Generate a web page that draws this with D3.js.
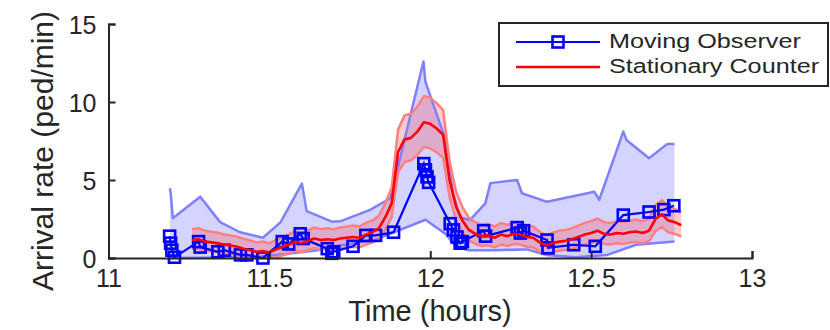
<!DOCTYPE html>
<html>
<head>
<meta charset="utf-8">
<script src="https://cdn.jsdelivr.net/npm/d3@7"></script>
<style>
  body { margin: 0; background: #fff; }
  text { font-family: "Liberation Sans", Arial, Helvetica, sans-serif; fill: #262626; }
</style>
</head>
<body>
<div id="chart"></div>
<script>
// moving observer estimates (time in hours, rate in ped/min)
const moverTime = [11.190, 11.193, 11.197, 11.205, 11.280, 11.285, 11.340, 11.360, 11.410, 11.430,
  11.480, 11.540, 11.560, 11.596, 11.605, 11.680, 11.694, 11.700, 11.760, 11.800, 11.830, 11.886,
  11.980, 11.985, 11.990, 11.995, 12.062, 12.072, 12.083, 12.093, 12.100, 12.166, 12.172, 12.270,
  12.280, 12.290, 12.363, 12.366, 12.446, 12.513, 12.600, 12.680, 12.726, 12.757];
const moverRate = [1.40, 0.95, 0.50, 0.05, 1.05, 0.70, 0.40, 0.50, 0.20, 0.20,
  0.00, 1.05, 0.90, 1.55, 1.25, 0.60, 0.30, 0.40, 0.75, 1.45, 1.45, 1.65,
  6.05, 5.65, 5.20, 4.85, 2.20, 1.80, 1.35, 0.95, 1.05, 1.75, 1.40, 1.95,
  1.60, 1.75, 1.15, 0.65, 0.85, 0.75, 2.75, 2.95, 3.10, 3.35];

// moving observer confidence band
const moverHiTime = [11.191, 11.193, 11.200, 11.285, 11.347, 11.409, 11.480, 11.535, 11.601, 11.616,
  11.694, 11.720, 11.813, 11.876, 11.890, 11.940, 11.979, 11.985, 12.047, 12.070, 12.093, 12.124,
  12.171, 12.187, 12.270, 12.285, 12.363, 12.510, 12.525, 12.600, 12.610, 12.680, 12.736, 12.759];
const moverHi = [4.47, 4.20, 2.55, 3.93, 2.30, 1.65, 1.30, 2.30, 4.77, 3.00,
  2.33, 2.35, 3.08, 3.83, 5.00, 9.30, 12.60, 11.30, 7.60, 4.20, 2.60, 2.44,
  3.50, 4.80, 5.00, 4.15, 3.60, 4.25, 3.72, 8.10, 7.56, 6.39, 7.30, 7.30];
const moverLoTime = [11.191, 11.450, 11.550, 11.650, 11.720, 11.820, 11.985, 12.050, 12.080, 12.120,
  12.200, 12.300, 12.360, 12.450, 12.550, 12.640, 12.759];
const moverLo = [0.00, 0.05, 0.25, 0.50, 0.80, 1.10, 2.45, 1.50, 0.72, 0.50,
  0.50, 0.55, 0.20, 0.05, 0.20, 0.85, 1.05];

// stationary counter, sampled every 0.02 h from 11.26
const counterTime = [11.26, 11.28, 11.30, 11.32, 11.34, 11.36, 11.38, 11.40, 11.42, 11.44,
  11.46, 11.48, 11.50, 11.52, 11.54, 11.56, 11.58, 11.60, 11.62, 11.64,
  11.66, 11.68, 11.70, 11.72, 11.74, 11.76, 11.78, 11.80, 11.82, 11.84,
  11.86, 11.88, 11.90, 11.92, 11.94, 11.96, 11.98, 12.00, 12.02, 12.04,
  12.06, 12.08, 12.10, 12.12, 12.14, 12.16, 12.18, 12.20, 12.22, 12.24,
  12.26, 12.28, 12.30, 12.32, 12.34, 12.36, 12.38, 12.40, 12.42, 12.44,
  12.46, 12.48, 12.50, 12.52, 12.54, 12.56, 12.58, 12.60, 12.62, 12.64,
  12.66, 12.68, 12.70, 12.72, 12.74, 12.76, 12.78];
const counterRate = [1.15, 1.20, 1.05, 1.00, 0.95, 0.85, 0.80, 0.72, 0.60, 0.50,
  0.40, 0.45, 0.35, 0.55, 0.70, 0.85, 1.05, 0.95, 1.10, 1.25,
  1.15, 1.20, 1.15, 1.25, 1.30, 1.35, 1.30, 1.50, 1.65, 1.90,
  2.60, 3.50, 6.80, 7.60, 7.70, 8.10, 8.70, 8.60, 8.30, 7.90,
  5.00, 3.30, 2.40, 1.80, 1.55, 1.40, 1.45, 1.30, 1.50, 1.40,
  1.55, 1.50, 1.35, 1.30, 1.00, 0.80, 0.95, 1.05, 1.10, 1.20,
  1.35, 1.50, 1.60, 1.75, 1.55, 1.50, 1.60, 1.55, 1.65, 1.70,
  1.60, 1.75, 2.50, 2.80, 2.40, 2.30, 2.10];
const counterHi = [1.85, 1.91, 1.74, 1.68, 1.62, 1.51, 1.45, 1.36, 1.23, 1.12,
  1.00, 1.06, 0.95, 1.17, 1.34, 1.51, 1.74, 1.62, 1.79, 1.96,
  1.85, 1.91, 1.85, 1.96, 2.02, 2.08, 2.02, 2.25, 2.41, 2.70,
  3.49, 4.50, 8.23, 9.14, 9.25, 9.70, 10.38, 10.27, 9.93, 9.48,
  6.20, 4.28, 3.26, 2.58, 2.30, 2.13, 2.19, 2.02, 2.25, 2.13,
  2.30, 2.25, 2.08, 2.02, 1.68, 1.45, 1.62, 1.74, 1.79, 1.91,
  2.08, 2.25, 2.36, 2.53, 2.30, 2.25, 2.36, 2.30, 2.41, 2.47,
  2.36, 2.53, 3.38, 3.71, 3.26, 3.15, 2.92];
const counterLo = [0.55, 0.59, 0.46, 0.42, 0.38, 0.29, 0.25, 0.18, 0.07, 0.00,
  0.00, 0.00, 0.00, 0.03, 0.16, 0.29, 0.46, 0.38, 0.51, 0.64,
  0.55, 0.59, 0.55, 0.64, 0.68, 0.72, 0.68, 0.86, 0.99, 1.20,
  1.81, 2.60, 5.47, 6.16, 6.25, 6.60, 7.12, 7.03, 6.77, 6.42,
  3.90, 2.42, 1.64, 1.12, 0.90, 0.77, 0.81, 0.68, 0.86, 0.77,
  0.90, 0.86, 0.72, 0.68, 0.42, 0.25, 0.38, 0.46, 0.51, 0.59,
  0.72, 0.86, 0.94, 1.07, 0.90, 0.86, 0.94, 0.90, 0.99, 1.03,
  0.94, 1.07, 1.73, 1.99, 1.64, 1.55, 1.38];

const xTicks = [11, 11.5, 12, 12.5, 13];
const yTicks = [0, 5, 10, 15];
const seriesNames = ["Moving Observer", "Stationary Counter"];

const width = 830, height = 330;
const svg = d3.select("#chart").append("svg")
  .attr("width", width)
  .attr("height", height);

const x = d3.scaleLinear().domain([11, 13]).range([108.5, 752]);
const y = d3.scaleLinear().domain([0, 15]).range([258, 24]);

const mover = moverTime.map((t, i) => ({t, v: moverRate[i]}));
const counter = counterTime.map((t, i) => ({t, v: counterRate[i], hi: counterHi[i], lo: counterLo[i]}));
const moverHiPts = moverHiTime.map((t, i) => ({t, v: moverHi[i]}));
const moverLoPts = moverLoTime.map((t, i) => ({t, v: moverLo[i]}));

const line = d3.line().x(d => x(d.t)).y(d => y(d.v));

// blue band polygon: upper edge then lower edge reversed
const bandPts = moverHiPts.concat(moverLoPts.slice().reverse());
svg.append("path")
  .attr("d", line(bandPts) + "Z")
  .attr("fill", "#d4d4ff")
  .attr("stroke", "none");

// red band
const redArea = d3.area().x(d => x(d.t)).y0(d => y(d.lo)).y1(d => y(d.hi));
svg.append("path")
  .datum(counter)
  .attr("d", redArea)
  .attr("fill", "#ff2a2a")
  .attr("fill-opacity", 0.24);

// band edges
[moverHiPts, moverLoPts].forEach(pts => {
  svg.append("path")
    .datum(pts)
    .attr("d", line)
    .attr("fill", "none")
    .attr("stroke", "#8080ff")
    .attr("stroke-width", 2.5)
    .attr("stroke-linejoin", "round");
});
["hi", "lo"].forEach(k => {
  svg.append("path")
    .datum(counter)
    .attr("d", d3.line().x(d => x(d.t)).y(d => y(d[k])))
    .attr("fill", "none")
    .attr("stroke", "#ff8080")
    .attr("stroke-width", 2.5)
    .attr("stroke-linejoin", "round");
});

// moving observer line + square markers
svg.append("path")
  .datum(mover)
  .attr("d", line)
  .attr("fill", "none")
  .attr("stroke", "#0000ff")
  .attr("stroke-width", 2.2);
svg.selectAll("rect.mk")
  .data(mover)
  .enter()
  .append("rect")
    .attr("class", "mk")
    .attr("x", d => x(d.t) - 5.5)
    .attr("y", d => y(d.v) - 5.5)
    .attr("width", 11)
    .attr("height", 11)
    .attr("fill", "none")
    .attr("stroke", "#0000ff")
    .attr("stroke-width", 2.6);

// stationary counter line
svg.append("path")
  .datum(counter)
  .attr("d", line)
  .attr("fill", "none")
  .attr("stroke", "#ff0000")
  .attr("stroke-width", 2.6)
  .attr("stroke-linejoin", "round");

// axes
const xAxis = d3.axisBottom(x).tickValues(xTicks).tickSizeInner(-7).tickSizeOuter(-7)
  .tickPadding(11).tickFormat(d3.format("~g"));
const yAxis = d3.axisLeft(y).tickValues(yTicks).tickSizeInner(-7).tickSizeOuter(-7)
  .tickPadding(12);

const gx = svg.append("g").attr("transform", "translate(0,258)").call(xAxis);
const gy = svg.append("g").attr("transform", "translate(108.5,0)").call(yAxis);
[gx, gy].forEach(g => {
  g.select(".domain").attr("stroke", "#262626").attr("stroke-width", 2);
  g.selectAll(".tick line").attr("stroke", "#262626").attr("stroke-width", 2);
  g.selectAll(".tick text")
    .attr("fill", "#262626")
    .style("font-family", "'Liberation Sans', Arial, sans-serif")
    .style("font-size", "25px");
});
gx.selectAll(".tick text").attr("dy", "0.72em");
gy.selectAll(".tick text").attr("dy", "0.36em");

svg.append("text")
  .attr("x", 430)
  .attr("y", 321)
  .attr("text-anchor", "middle")
  .style("font-size", "29px")
  .text("Time (hours)");

svg.append("text")
  .attr("transform", "translate(53,151) rotate(-90)")
  .attr("text-anchor", "middle")
  .style("font-size", "30px")
  .text("Arrival rate (ped/min)");

// legend
const lg = svg.append("g");
lg.append("rect")
  .attr("x", 499).attr("y", 23)
  .attr("width", 329).attr("height", 63)
  .attr("fill", "#fff")
  .attr("stroke", "#262626")
  .attr("stroke-width", 2);
lg.append("line").attr("x1", 516).attr("x2", 600).attr("y1", 42).attr("y2", 42)
  .attr("stroke", "#0000ff").attr("stroke-width", 2.2);
lg.append("rect").attr("x", 552.5).attr("y", 36.5).attr("width", 11).attr("height", 11)
  .attr("fill", "none").attr("stroke", "#0000ff").attr("stroke-width", 2.6);
lg.append("line").attr("x1", 516).attr("x2", 600).attr("y1", 67).attr("y2", 67)
  .attr("stroke", "#ff0000").attr("stroke-width", 2.6);
seriesNames.forEach((name, i) => {
  lg.append("text")
    .attr("transform", `translate(609,${47.5 + i * 25}) scale(1.2,1)`)
    .style("font-size", "21px")
    .text(name);
});
</script>
</body>
</html>
